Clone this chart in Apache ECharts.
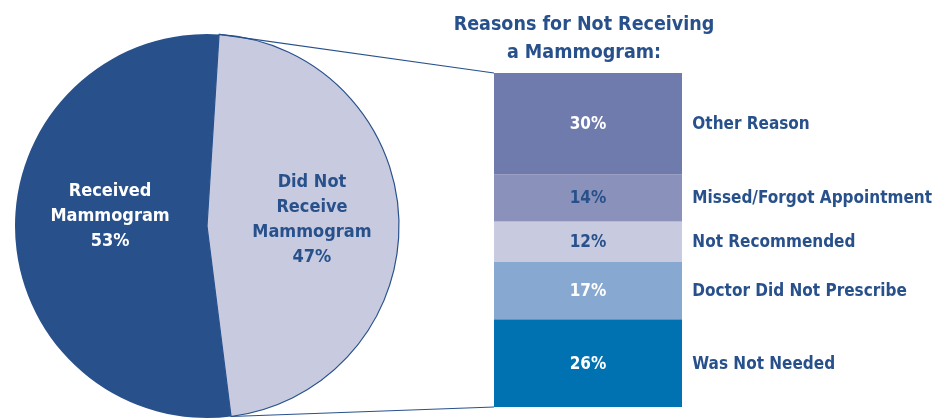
<!DOCTYPE html>
<html><head><meta charset="utf-8">
<script src="https://cdn.jsdelivr.net/npm/echarts@6/dist/echarts.min.js"></script>
<style>html,body{margin:0;padding:0;background:#fff}#c{width:935px;height:420px}</style>
</head><body><div id="c"></div>
<script>
// ---- data ----
const pieNames = ['Did Not\nReceive\nMammogram', 'Received\nMammogram'];
const pieValues = [47, 53];
const reasonNames = ['Was Not Needed', 'Doctor Did Not Prescribe', 'Not Recommended', 'Missed/Forgot Appointment', 'Other Reason'];
const reasonValues = [26, 17, 12, 14, 30];
const titleLines = ['Reasons for Not Receiving', 'a Mammogram:'];

// ---- style ----
const FONT = '"Liberation Sans Narrow", "DejaVu Sans Condensed", "Roboto Condensed", sans-serif';
const NAVY = '#28518C';
const reasonColors = ['#0071B1', '#87A8D1', '#C8CBE0', '#8A92BB', '#6F7BAC'];
const reasonLabelColors = ['#fff', '#fff', NAVY, NAVY, '#fff'];
const pieColors = ['#C8CBE0', '#28518C'];
const pieLabelColors = [NAVY, '#fff'];
const pieCenter = [207, 226], pieR = 192, startAngle = 86.4;
const total = reasonValues.reduce((a, b) => a + b, 0);

const chart = echarts.init(document.getElementById('c'), null, {renderer: 'canvas'});

const series = [{
  type: 'pie', center: pieCenter, radius: pieR, startAngle: startAngle, clockwise: true,
  silent: true, animation: false,
  data: pieValues.map((v, i) => ({
    name: pieNames[i], value: v,
    itemStyle: {color: pieColors[i], borderColor: NAVY, borderWidth: i === 0 ? 1.2 : 0},
    label: {color: pieLabelColors[i], offset: i === 0 ? [6, -3] : [2, -13]}
  })),
  label: {show: true, position: 'inside', fontFamily: FONT, fontWeight: 'bold', fontSize: 18, lineHeight: 25,
    formatter: p => p.name + '\n' + p.value + '%'},
  labelLine: {show: false}
}];
reasonValues.forEach((v, i) => {
  series.push({
    type: 'bar', stack: 'a', xAxisIndex: 0, yAxisIndex: 0, barWidth: '100%', animation: false, silent: true,
    data: [v], itemStyle: {color: reasonColors[i]},
    label: {show: true, position: 'inside', offset: [0, 1], color: reasonLabelColors[i], fontFamily: FONT, fontWeight: 'bold', fontSize: 17,
      formatter: p => p.value + '%'}
  });
  series.push({
    type: 'bar', stack: 'b', xAxisIndex: 1, yAxisIndex: 1, barWidth: '100%', animation: false, silent: true,
    data: [v], itemStyle: {color: 'rgba(0,0,0,0)'},
    label: {show: true, position: ['105.5%', '50%'], offset: [0, 1], align: 'left', verticalAlign: 'middle', color: NAVY,
      fontFamily: FONT, fontWeight: 'bold', fontSize: 17, formatter: () => reasonNames[i]}
  });
});

const grid = {left: 494, top: 73, width: 188, height: 334};
chart.setOption({
  backgroundColor: '#fff',
  title: {text: titleLines.join('\n'), left: 579, top: 6, textAlign: 'center',
    textStyle: {fontFamily: FONT, fontWeight: 'bold', fontSize: 19.5, lineHeight: 28, color: NAVY}},
  grid: [grid, Object.assign({}, grid)],
  xAxis: [0, 1].map(g => ({type: 'category', gridIndex: g, data: ['r'], show: false})),
  yAxis: [0, 1].map(g => ({type: 'value', gridIndex: g, min: 0, max: total, show: false})),
  series: series
});

// connector lines from pie divider ends to bar corners
const toRad = d => d * Math.PI / 180;
const a0 = toRad(startAngle);
const a1 = toRad(startAngle - pieValues[0] / (pieValues[0] + pieValues[1]) * 360);
const pTop = [pieCenter[0] + pieR * Math.cos(a0), pieCenter[1] - pieR * Math.sin(a0)];
const pBot = [pieCenter[0] + pieR * Math.cos(a1), pieCenter[1] - pieR * Math.sin(a1)];
const barTop = chart.convertToPixel({gridIndex: 0}, [0, total]);
const barBot = chart.convertToPixel({gridIndex: 0}, [0, 0]);
const bx = grid.left;
chart.setOption({
  graphic: [
    {type: 'line', shape: {x1: pTop[0], y1: pTop[1], x2: bx, y2: barTop[1]}, style: {stroke: NAVY, lineWidth: 1.2}, z: 10},
    {type: 'line', shape: {x1: pBot[0], y1: pBot[1], x2: bx, y2: barBot[1]}, style: {stroke: NAVY, lineWidth: 1.2}, z: 10}
  ]
});
</script></body></html>
